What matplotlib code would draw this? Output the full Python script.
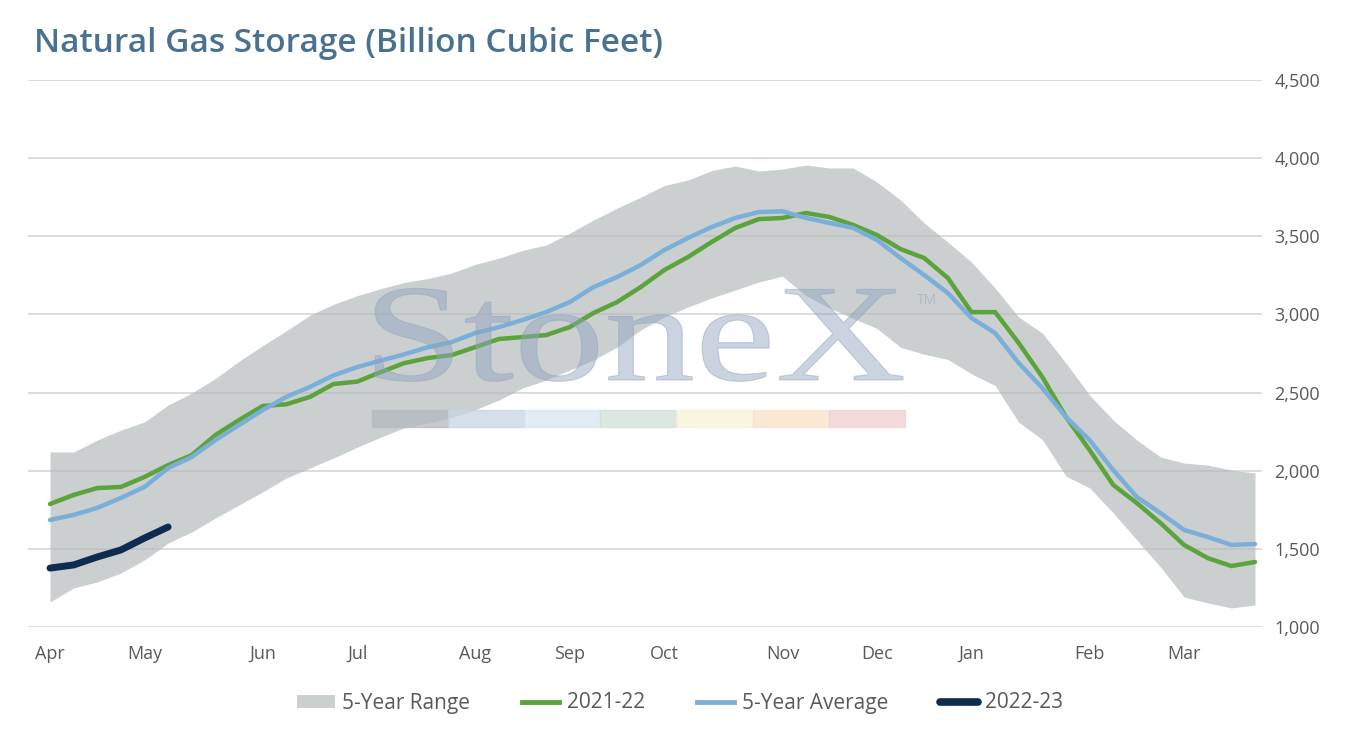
import matplotlib
matplotlib.use("Agg")
import matplotlib.pyplot as plt
from matplotlib.patches import Patch, Rectangle, PathPatch
from matplotlib.lines import Line2D
from matplotlib.ticker import FuncFormatter
from matplotlib.textpath import TextPath
from matplotlib.font_manager import FontProperties
from matplotlib.transforms import Affine2D, IdentityTransform
import numpy as np

# ---------------- data ----------------
month_labels = ["Apr", "May", "Jun", "Jul", "Aug", "Sep", "Oct", "Nov", "Dec", "Jan", "Feb", "Mar"]
month_weeks = [0, 4, 9, 13, 18, 22, 26, 31, 35, 39, 44, 48]

range_hi = [2120, 2120, 2196, 2260, 2312, 2420, 2497, 2590, 2700, 2800, 2895, 2995, 3065, 3120,
            3165, 3205, 3230, 3265, 3320, 3360, 3410, 3444, 3520, 3604, 3680, 3750, 3825, 3860,
            3920, 3950, 3918, 3930, 3956, 3937, 3937, 3847, 3732, 3585, 3463, 3335, 3169, 2983,
            2881, 2689, 2484, 2324, 2196, 2088, 2049, 2036, 2004, 1985]
range_lo = [1160, 1250, 1288, 1345, 1429, 1537, 1608, 1697, 1781, 1864, 1953, 2017, 2081, 2150,
            2215, 2275, 2305, 2340, 2390, 2452, 2529, 2580, 2644, 2708, 2791, 2900, 2983, 3047,
            3105, 3156, 3207, 3245, 3120, 3040, 2975, 2910, 2790, 2745, 2712, 2620, 2545, 2310,
            2200, 1965, 1890, 1730, 1557, 1384, 1192, 1154, 1122, 1141]
avg_5yr = [1685, 1717, 1762, 1826, 1896, 2017, 2088, 2196, 2292, 2388, 2472, 2536, 2610, 2663,
           2705, 2745, 2790, 2823, 2881, 2919, 2964, 3015, 3079, 3175, 3239, 3316, 3412, 3489,
           3559, 3617, 3655, 3660, 3617, 3585, 3553, 3476, 3361, 3252, 3137, 2977, 2881, 2689,
           2529, 2344, 2196, 2004, 1832, 1729, 1621, 1576, 1525, 1531]
y2021_22 = [1787, 1845, 1889, 1896, 1960, 2036, 2100, 2228, 2324, 2414, 2425, 2472, 2555, 2570,
            2631, 2689, 2721, 2740, 2791, 2843, 2855, 2868, 2919, 3009, 3079, 3175, 3284, 3367,
            3463, 3553, 3610, 3617, 3649, 3623, 3572, 3508, 3418, 3361, 3233, 3015, 3015, 2817,
            2599, 2344, 2132, 1909, 1793, 1665, 1525, 1441, 1390, 1416]
y2022_23 = [1377, 1397, 1448, 1493, 1569, 1640]

y_ticks = [1000, 1500, 2000, 2500, 3000, 3500, 4000, 4500]

# ---------------- style ----------------
W, H = 1346, 730
fig = plt.figure(figsize=(W / 100, H / 100), dpi=100)
fig.patch.set_facecolor("white")

ax_l, ax_r, ax_t, ax_b = 28, 1262, 80, 627
ax = fig.add_axes([ax_l / W, 1 - ax_b / H, (ax_r - ax_l) / W, (ax_b - ax_t) / H])
ax.set_facecolor("none")

FONT = ["Open Sans", "DejaVu Sans"]
TXT = "#595959"

weeks = np.arange(len(avg_5yr))

# ---- watermark (behind the range band), drawn in pixel space ----
wm_color = "#8fa3bd"
serif = FontProperties(family=["Liberation Serif", "DejaVu Serif"])
tp = TextPath((0, 0), "StoneX", size=100, prop=serif)
ext = tp.get_extents()
cap = TextPath((0, 0), "S", size=100, prop=serif).get_extents()
wm_left, wm_right, wm_base, wm_cap = 375, 903, 380, 93
sx = (wm_right - wm_left) / ext.width
sy = wm_cap / cap.height
tr = Affine2D().translate(-ext.x0, 0).scale(sx, sy).translate(wm_left, H - wm_base)
fig.patches.append(PathPatch(tr.transform_path(tp), transform=IdentityTransform(),
                             facecolor=wm_color, edgecolor=wm_color, lw=0.8, alpha=0.47,
                             zorder=0.5))
fig.text(927 / W, 1 - 300 / H, "TM", fontsize=10, family=FONT, color=wm_color, alpha=0.5,
         ha="center", va="center", zorder=0.5)
strip_colors = ["#b4b9bf", "#c9d5e3", "#d8e6f1", "#cfe0d6", "#f6f2d6", "#f7e2c8", "#f0cfd2"]
x0, seg = 372, 76.1
for i, c in enumerate(strip_colors):
    fig.patches.append(Rectangle(((x0 + i * seg) / W, 1 - 427 / H), seg / W, 17 / H,
                                 transform=fig.transFigure, color=c, alpha=0.75, zorder=0.5))

# grid
for yv in y_ticks:
    ax.axhline(yv, color="#d9d9d9", lw=1.3, zorder=0)

ax.fill_between(weeks, range_lo, range_hi, color="#b3b9bb", alpha=0.68, lw=0, zorder=1,
                label="5-Year Range")
ax.plot(weeks, y2021_22, color="#5ba33b", lw=3.2, zorder=3, label="2021-22",
        solid_capstyle="round", solid_joinstyle="round")
ax.plot(weeks, avg_5yr, color="#7aafd9", lw=3.2, zorder=3, label="5-Year Average",
        solid_capstyle="round", solid_joinstyle="round")
ax.plot(weeks[:len(y2022_23)], y2022_23, color="#0d2c4f", lw=5.0, zorder=4, label="2022-23",
        solid_capstyle="round", solid_joinstyle="round")

px_per_week = (1255 - 50) / 51
ax.set_xlim(-(50 - ax_l) / px_per_week, 51 + (ax_r - 1255) / px_per_week)
ax.set_ylim(1000, 4500)

ax.set_xticks(month_weeks)
ax.set_xticklabels(month_labels)
ax.set_yticks(y_ticks)
ax.yaxis.set_major_formatter(FuncFormatter(lambda v, p: f"{int(v):,}"))
ax.yaxis.tick_right()
ax.tick_params(axis="both", length=0, labelsize=13, labelcolor=TXT)
ax.tick_params(axis="x", pad=13)
ax.tick_params(axis="y", pad=9)
for lab in ax.get_xticklabels() + ax.get_yticklabels():
    lab.set_family(FONT)
for sp in ax.spines.values():
    sp.set_visible(False)

fig.text(34 / W, 1 - 43 / H, "Natural Gas Storage (Billion Cubic Feet)", fontsize=24,
         family=FONT, weight="semibold", color="#4a7190", ha="left", va="center")

handles = [Patch(facecolor="#cbcfd0", edgecolor="none"),
           Line2D([], [], color="#5ba33b", lw=3.5),
           Line2D([], [], color="#7aafd9", lw=3.5),
           Line2D([], [], color="#0d2c4f", lw=5.5, solid_capstyle="round")]
labels = ["5-Year Range", "2021-22", "5-Year Average", "2022-23"]
leg = fig.legend(handles, labels, loc="center", bbox_to_anchor=(680 / W, 1 - 703 / H), ncol=4,
                 frameon=False, prop={"family": FONT, "size": 15}, handlelength=1.8,
                 handleheight=0.6, handletextpad=0.35, columnspacing=2.5)
for t in leg.get_texts():
    t.set_color(TXT)

fig.savefig("out.png", dpi=100, facecolor="white")
